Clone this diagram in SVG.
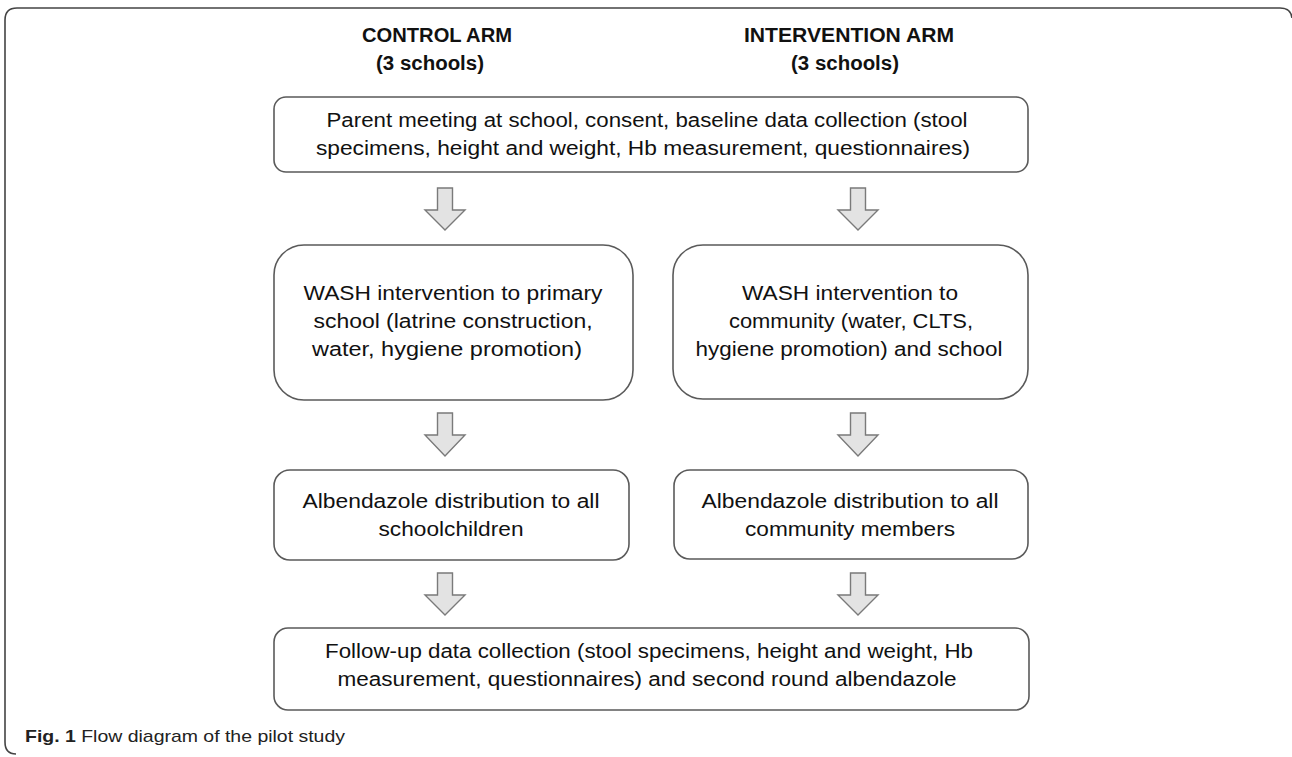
<svg xmlns="http://www.w3.org/2000/svg" width="1292" height="757" viewBox="0 0 1292 757">
<style>
.box{fill:#fff;stroke:#5a5a5a;stroke-width:1.6}
.arr{fill:#e3e3e3;stroke:#7a7a7a;stroke-width:1.4;stroke-linejoin:miter}
.t{font-family:"Liberation Sans",Arial,sans-serif;font-size:20px;fill:#111;text-anchor:middle}
.h{font-family:"Liberation Sans",Arial,sans-serif;font-size:20px;font-weight:bold;fill:#111;text-anchor:middle}
.cap{font-family:"Liberation Sans",Arial,sans-serif;font-size:17px;fill:#222}
</style>
<path d="M 16,754 Q 5,754 5,742 L 5,20 Q 5,8 17,8 L 1280,8 Q 1291,8 1292,18" fill="none" stroke="#444" stroke-width="1.6"/>
<g id="headers">
<text class="h" x="437" y="42" textLength="150" lengthAdjust="spacingAndGlyphs">CONTROL ARM</text>
<text class="h" x="430" y="70" textLength="108" lengthAdjust="spacingAndGlyphs">(3 schools)</text>
<text class="h" x="849" y="42" textLength="210" lengthAdjust="spacingAndGlyphs">INTERVENTION ARM</text>
<text class="h" x="845" y="70" textLength="108" lengthAdjust="spacingAndGlyphs">(3 schools)</text>
</g>
<g id="baseline">
<rect class="box" x="274" y="97" width="754" height="75" rx="12"/>
<text class="t" x="647" y="127" textLength="641" lengthAdjust="spacingAndGlyphs">Parent meeting at school, consent, baseline data collection (stool</text>
<text class="t" x="643" y="155" textLength="654" lengthAdjust="spacingAndGlyphs">specimens, height and weight, Hb measurement, questionnaires)</text>
</g>
<g id="wash-control">
<rect class="box" x="274" y="245" width="359" height="155" rx="30"/>
<text class="t" x="453" y="300" textLength="299" lengthAdjust="spacingAndGlyphs">WASH intervention to primary</text>
<text class="t" x="453" y="328" textLength="279" lengthAdjust="spacingAndGlyphs">school (latrine construction,</text>
<text class="t" x="447" y="356" textLength="270" lengthAdjust="spacingAndGlyphs">water, hygiene promotion)</text>
</g>
<g id="wash-intervention">
<rect class="box" x="673" y="245" width="355" height="154" rx="30"/>
<text class="t" x="850" y="300" textLength="216" lengthAdjust="spacingAndGlyphs">WASH intervention to</text>
<text class="t" x="851" y="328" textLength="244" lengthAdjust="spacingAndGlyphs">community (water, CLTS,</text>
<text class="t" x="849" y="356" textLength="307" lengthAdjust="spacingAndGlyphs">hygiene promotion) and school</text>
</g>
<g id="albendazole-control">
<rect class="box" x="274" y="470" width="355" height="90" rx="16"/>
<text class="t" x="451" y="508" textLength="297" lengthAdjust="spacingAndGlyphs">Albendazole distribution to all</text>
<text class="t" x="451" y="536" textLength="145" lengthAdjust="spacingAndGlyphs">schoolchildren</text>
</g>
<g id="albendazole-intervention">
<rect class="box" x="674" y="470" width="354" height="89" rx="16"/>
<text class="t" x="850" y="508" textLength="297" lengthAdjust="spacingAndGlyphs">Albendazole distribution to all</text>
<text class="t" x="850" y="536" textLength="210" lengthAdjust="spacingAndGlyphs">community members</text>
</g>
<g id="followup">
<rect class="box" x="274" y="628" width="755" height="82" rx="14"/>
<text class="t" x="649" y="658" textLength="648" lengthAdjust="spacingAndGlyphs">Follow-up data collection (stool specimens, height and weight, Hb</text>
<text class="t" x="647" y="686" textLength="619" lengthAdjust="spacingAndGlyphs">measurement, questionnaires) and second round albendazole</text>
</g>
<g id="connectors">
<path class="arr" d="M437.5,188 H452.5 V210 H465 L445,230 L425,210 H437.5 Z"/>
<path class="arr" d="M850.5,188 H865.5 V210 H878 L858,230 L838,210 H850.5 Z"/>
<path class="arr" d="M437.5,413 H452.5 V435 H465 L445,456 L425,435 H437.5 Z"/>
<path class="arr" d="M850.5,413 H865.5 V435 H878 L858,456 L838,435 H850.5 Z"/>
<path class="arr" d="M437.5,573 H452.5 V595 H465 L445,615 L425,595 H437.5 Z"/>
<path class="arr" d="M850.5,573 H865.5 V595 H878 L858,615 L838,595 H850.5 Z"/>
</g>
<text class="cap" x="25" y="742" textLength="320" lengthAdjust="spacingAndGlyphs"><tspan font-weight="bold">Fig. 1</tspan> Flow diagram of the pilot study</text>
</svg>
